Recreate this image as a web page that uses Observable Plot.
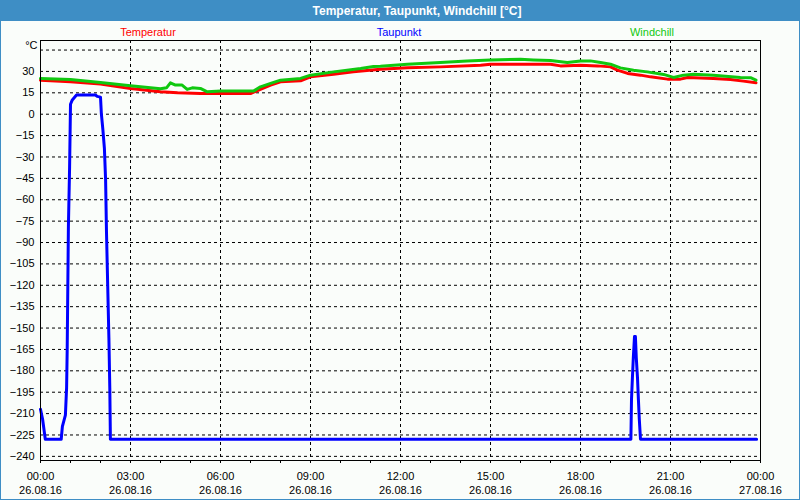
<!DOCTYPE html>
<html>
<head>
<meta charset="utf-8">
<script src="https://cdn.jsdelivr.net/npm/d3@7"></script>
<script src="https://cdn.jsdelivr.net/npm/@observablehq/plot@0.6"></script>
<style>
  html, body { margin: 0; padding: 0; background: #ffffff; }
  #wrap { position: relative; width: 800px; height: 500px; background: #3E8EC5; overflow: hidden; font-family: "Liberation Sans", Arial, sans-serif; }
  #title { position: absolute; top: 0; left: 0; width: 800px; height: 21px; }
  #title span { position: absolute; left: 417px; top: 10.5px; transform: translate(-50%, -50%); color: #ffffff; font-weight: bold; font-size: 12px; white-space: nowrap; }
  #chart { position: absolute; left: 1px; top: 21px; width: 798px; height: 478px; background: #FAFDFA; }
  .leg { position: absolute; top: 32px; transform: translate(-50%, -50%); font-size: 11px; white-space: nowrap; }
</style>
</head>
<body>
<div id="wrap">
  <div id="title"><span>Temperatur, Taupunkt, Windchill [°C]</span></div>
  <div id="chart"></div>
  <span class="leg" style="left:148px;color:#FF0000">Temperatur</span>
  <span class="leg" style="left:399px;color:#0000FF">Taupunkt</span>
  <span class="leg" style="left:652px;color:#10C810">Windchill</span>
</div>
<script>
// Time in hours since 26.08.16 00:00
const tempHours = [0,1,2,3,4,4.57,5.33,7,7.33,7.67,8,8.67,9,9.77,10.43,11.33,12.23,13.33,14.67,15,17,17.33,18,18.57,19,19.23,19.57,20,20.33,20.9,21.33,21.57,22.43,23,23.43,23.85];
const tempValues = [23.9,22.7,21.1,18.1,15.7,15.0,14.5,14.5,17.4,20.4,22.7,23.4,26.2,28.1,29.7,31.6,32.5,33.2,34.4,35.1,35.1,33.9,34.4,33.9,33.2,30.9,28.6,27.4,26.2,24.6,24.6,25.8,25.1,24.4,23.2,22.0];

const dewHours = [0,0.07,0.16,0.69,0.73,0.83,0.87,0.89,0.91,0.93,0.97,1.0,1.06,1.2,1.83,1.89,2.0,2.03,2.08,2.13,2.17,2.2,2.24,2.28,2.31,2.33,19.68,19.70,19.73,19.76,19.80,19.83,19.86,19.90,19.93,19.96,20.0,23.87];
const dewValues = [-207,-214,-228,-228,-219,-211,-192,-165,-122,-79,-37,7,10,13.5,13.5,12.5,12,0,-11,-24,-46,-83,-120,-157,-192,-228,-228,-200,-185,-171,-156,-156,-171,-185,-200,-214,-228,-228];

const windHours = [0,1,2,3,4,4.2,4.33,4.5,4.72,4.89,5.06,5.33,5.56,6,7.1,7.33,7.67,8,8.67,9,9.77,10.67,11.1,11.33,12.23,13.33,14.22,15,16,16.43,17,17.56,18,18.33,18.67,19,19.33,19.77,20.22,20.77,21.1,21.43,21.77,22.43,23.33,23.67,23.85];
const windValues = [25.1,24.4,22.3,20,17.8,18.5,22,20.4,20.4,17.4,18.5,18.1,15.7,16.2,16.2,19.2,21.6,23.9,25.1,27.4,29.7,32.1,33.5,33.7,35.1,36.3,37.4,38.1,38.6,38.1,37.7,36.3,37.4,37.4,36.3,35.1,32.5,30.9,29.7,27.9,25.8,27.4,28.1,27.4,25.8,25.6,23.9];

const xLabelHours = [0,3,6,9,12,15,18,21,24];
const xTimeLabels = ["00:00","03:00","06:00","09:00","12:00","15:00","18:00","21:00","00:00"];
const xDateLabels = ["26.08.16","26.08.16","26.08.16","26.08.16","26.08.16","26.08.16","26.08.16","26.08.16","27.08.16"];
const minorHours = d3.range(0, 25, 1);
const yTicks = d3.range(-240, 31, 15);
const yGrid = d3.range(-240, 46, 15);
const yUnit = "°C";

const toRows = (hs, vs) => hs.map((h, i) => ({h, v: vs[i]}));
const temp = toRows(tempHours, tempValues);
const dew = toRows(dewHours, dewValues);
const wind = toRows(windHours, windValues);

const plot = Plot.plot({
  width: 798,
  height: 478,
  marginLeft: 39,
  marginRight: 39,
  marginTop: 19,
  marginBottom: 39,
  style: {background: "#FAFDFA", fontFamily: "Liberation Sans, Arial, sans-serif", fontSize: "11px", color: "#000"},
  x: {domain: [0, 24], label: null},
  y: {domain: [-242.9, 51.7], label: null},
  marks: [
    Plot.ruleY(yGrid, {stroke: "#000", strokeDasharray: "3,3"}),
    Plot.ruleX(xLabelHours, {stroke: "#000", strokeDasharray: "3,3", insetBottom: -3}),
    Plot.axisX(minorHours, {tickSize: 3, tickFormat: () => "", stroke: "#000", label: null}),
    Plot.axisX(xLabelHours, {tickSize: 0, tickPadding: 9, lineHeight: 1.32, fill: "#000", label: null,
      tickFormat: (h) => { const i = xLabelHours.indexOf(h); return xTimeLabels[i] + "\n" + xDateLabels[i]; }}),
    Plot.axisY(yTicks, {tickSize: 0, tickPadding: 6, fill: "#000", label: null}),
    Plot.text([yUnit], {x: 0, y: 45, text: d => d, textAnchor: "end", dx: -3, dy: -5, fill: "#000"}),
    Plot.line(temp, {x: "h", y: "v", stroke: "#FF0000", strokeWidth: 3}),
    Plot.line(dew, {x: "h", y: "v", stroke: "#0000FF", strokeWidth: 3}),
    Plot.line(wind, {x: "h", y: "v", stroke: "#10C810", strokeWidth: 3}),
    Plot.frame({stroke: "#000"})
  ]
});
document.getElementById("chart").appendChild(plot);
</script>
</body>
</html>
